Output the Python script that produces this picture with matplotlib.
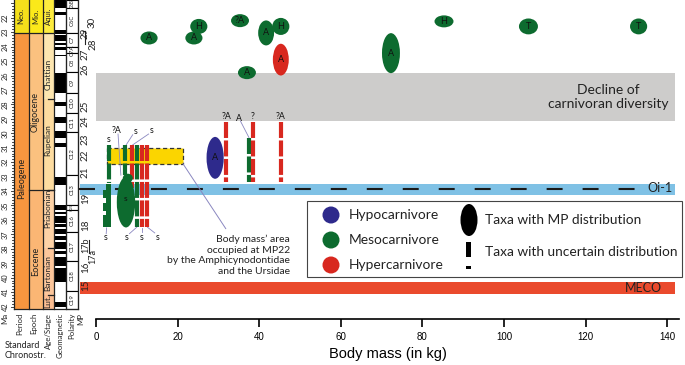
import matplotlib
matplotlib.use("Agg")
import numpy as np
import matplotlib.pyplot as plt
from matplotlib.patches import Ellipse, Rectangle, Circle

plt.rcParams['lines.scale_dashes'] = False
plt.rcParams['font.family'] = ['Lato', 'DejaVu Sans']

# ---------------- data ----------------
# taxa with MP distribution: body mass (kg), age (Ma), ellipse size (kg, Ma), diet, letter
ell_mass = [13.0, 25.2, 24.0, 35.3, 41.7, 45.3, 37.0, 72.3, 85.3, 106.0, 133.0, 45.3, 29.2]
ell_age = [23.4, 22.6, 23.4, 22.2, 23.05, 22.6, 25.8, 24.45, 22.25, 22.6, 22.6, 24.9, 31.7]
ell_w = [4.2, 4.2, 4.2, 4.4, 3.9, 4.2, 4.4, 4.4, 4.65, 4.65, 4.2, 3.9, 4.2]
ell_h = [0.9, 1.04, 0.9, 0.9, 1.73, 1.18, 0.9, 2.77, 0.83, 1.1, 1.1, 2.2, 2.9]
ell_diet = ['meso', 'meso', 'meso', 'meso', 'meso', 'meso', 'meso', 'meso', 'meso',
            'meso', 'meso', 'hyper', 'hypo']
ell_lab = ['A', 'H', 'A', '?A', 'A', 'H', 'A', 'A', 'H', 'T', 'T', 'A', 'A']

# taxa with uncertain distribution: mass (kg), first / last age (Ma), diet
bar_mass = [31.9, 37.5, 38.5, 45.3, 3.2, 7.1, 8.8, 10.0, 11.3, 12.5]
bar_top = [29.2, 30.3, 29.2, 29.2, 30.8, 30.8, 30.8, 30.8, 30.8, 30.8]
bar_bot = [33.4, 33.4, 33.4, 33.4, 33.45, 32.9, 33.45, 36.5, 36.5, 36.5]
bar_diet = ['hyper', 'meso', 'hyper', 'hyper', 'meso', 'meso', 'hyper', 'meso', 'hyper', 'hyper']

# labels over the uncertain bars (mass, age, text)
tag_mass = [31.9, 35.0, 38.5, 45.3, 3.2, 5.1, 9.6, 13.7, 2.4, 7.6, 11.3, 15.2]
tag_age = [28.85, 28.95, 28.85, 28.85, 30.45, 29.8, 29.9, 29.8, 37.2, 37.2, 37.2, 37.2]
tag_text = ['?A', 'A', '?', '?A', 's', '?A', 's', 's', 's', 's', 's', 's']
# leader lines: (mass0, age0, mass1, age1)
lead_x0 = [35.4, 5.4, 9.0, 12.9, 2.6, 8.2, 11.3, 14.4]
lead_y0 = [29.15, 30.05, 30.1, 30.05, 36.55, 36.95, 36.55, 36.9]
lead_x1 = [37.5, 6.1, 7.4, 9.0, 2.5, 10.0, 11.3, 12.6]
lead_y1 = [30.3, 32.9, 30.8, 30.8, 36.95, 36.5, 36.85, 36.5]

# Amphicynodontidae / Ursidae area at MP22
area_mass = (2.7, 21.3)
area_age = (31.0, 32.1)

# events (Ma)
decline_age = (25.8, 29.15)
oi1_age = 33.85
oi1_band = (33.5, 34.27)
meco_band = (40.3, 41.15)

# chronostratigraphy (Ma)
ma_labels = list(range(22, 43))
epoch_names = ['Oligocene', 'Eocene']
epoch_bounds = [23.03, 33.9, 42.15]
epoch_lab_age = [28.5, 38.9]
stage_names = ['Chattian', 'Rupelian', 'Priabonian', 'Bartonian', 'Lut.']
stage_bounds = [23.03, 27.6, 33.9, 37.95, 41.2, 42.15]
stage_lab_age = [25.9, 30.5, 35.2, 39.7, 41.65]
chron_names = ['C6B', 'C6C', 'C7', 'C7A', 'C8', 'C9', 'C10', 'C11', 'C12', 'C13',
               'C15', 'C16', 'C17', 'C18', 'C19']
chron_bounds = [20.77, 21.3, 23.05, 24.0, 24.45, 25.75, 27.2, 28.6, 29.9, 32.9,
                34.95, 35.3, 36.85, 38.85, 40.9, 42.15]
normal_start = [20.77, 21.6, 22.85, 23.2, 23.75, 24.05, 24.55, 25.8, 27.8, 28.9,
                29.85, 30.7, 33.05, 35.0, 35.45, 35.7, 36.3, 36.6, 37.1, 37.5, 38.15, 38.6,
                39.3, 41.7]
normal_end = [21.3, 21.8, 23.15, 23.6, 23.9, 24.25, 24.65, 27.2, 28.1, 29.3,
              30.35, 30.95, 33.55, 35.3, 35.6, 36.2, 36.5, 37.0, 37.4, 38.0, 38.35, 39.2,
              40.3, 42.0]
mp_text = ['30', '29', '28', '27', '26', '25', '24', '23', '22', '21', '19', '18',
           '17b', '17a', '16', '15']
mp_age = [22.3, 23.05, 23.8, 24.55, 25.6, 28.1, 29.2, 30.45, 31.55, 32.7, 34.5, 36.4,
          37.75, 38.5, 39.3, 40.5]
mp_col = [1, 0, 1, 0, 0, 0, 0, 0, 0, 0, 0, 0, 0, 1, 0, 0]

diet_color = {'hypo': '#2e2a8c', 'meso': '#0d6b2f', 'hyper': '#d8281f'}

# ---------------- layout ----------------
W, H = 685, 365
MA_TOP, MA_BOT = 20.77, 42.86
Y_AX = 319          # pixel row of the x axis
X0, X1 = 96, 679.4  # pixel columns of 0 kg and 143 kg

fig = plt.figure(figsize=(W / 100, H / 100), dpi=100)
ax = fig.add_axes([X0 / W, (H - Y_AX) / H, (X1 - X0) / W, Y_AX / H])
ax.set_xlim(0, 143)
ax.set_ylim(MA_BOT, MA_TOP)
for s in ['top', 'left', 'right']:
    ax.spines[s].set_visible(False)
ax.spines['bottom'].set_linewidth(1.2)
ax.set_yticks([])
ax.set_xticks(range(0, 141, 20))
ax.tick_params(axis='x', length=6, width=1.2, labelsize=7, pad=3)
for t in ax.get_xticklabels():
    t.set_family('Liberation Sans')
ax.set_xlabel('Body mass (in kg)', fontsize=10.5, family='Liberation Sans', labelpad=4)

# bands
ax.add_patch(Rectangle((0, decline_age[0]), 142, decline_age[1] - decline_age[0],
                       color='#cdcccb', lw=0, zorder=1))
ax.add_patch(Rectangle((-3.9, oi1_band[0]), 145.9, oi1_band[1] - oi1_band[0],
                       color='#7fc1e5', lw=0, zorder=1, clip_on=False))
ax.add_patch(Rectangle((-3.9, meco_band[0]), 145.9, meco_band[1] - meco_band[0],
                       color='#ea4a2d', lw=0, zorder=1, clip_on=False))
ax.plot([-4.2, 132.2], [oi1_age, oi1_age], color='#1a1a1a', lw=1.5,
        ls=(0, (11.5, 14.4)), dash_capstyle='butt', zorder=2, clip_on=False)
ax.text(125.5, sum(decline_age) / 2, 'Decline of\ncarnivoran diversity', ha='center',
        va='center', fontsize=10, linespacing=1.25, color='#222', zorder=3)
ax.text(141.2, oi1_age - 0.05, 'Oi-1', ha='right', va='center', fontsize=9, color='#222', zorder=3)
ax.text(138.7, sum(meco_band) / 2, 'MECO', ha='right', va='center', fontsize=9, color='#222', zorder=3)

# MP22 area
ax.add_patch(Rectangle((area_mass[0], area_age[0]), area_mass[1] - area_mass[0],
                       area_age[1] - area_age[0], facecolor='#fbd500', edgecolor='#333',
                       lw=0.9, ls=(0, (3, 2)), zorder=2))
ax.plot([area_mass[1], 31.8], [area_age[1], 36.6], color='#8a87c0', lw=0.7, zorder=2)
ax.text(47.6, 37.0, "Body mass\u2019 area\noccupied at MP22\nby the Amphicynodontidae\nand the Ursidae",
        ha='right', va='top', fontsize=7.5, linespacing=1.25, color='#222', zorder=3)

# uncertain bars
for m, t0, t1, d in zip(bar_mass, bar_top, bar_bot, bar_diet):
    ax.plot([m, m], [t0, t1], color=diet_color[d], lw=3.0, ls=(0, (11.5, 1.8)),
            dash_capstyle='butt', solid_capstyle='butt', zorder=4)
# stepped outline of the first mesocarnivore below Oi-1
g = diet_color['meso']
ax.add_patch(Rectangle((2.45, 33.5), 1.25, 3.0, color=g, lw=0, zorder=4))
for a0, a1 in [(33.95, 34.45), (34.85, 35.35), (35.65, 36.5)]:
    ax.add_patch(Rectangle((1.7, a0), 0.9, a1 - a0, color=g, lw=0, zorder=4))
ax.add_patch(Rectangle((8.3, 33.35), 0.9, 0.45, color=diet_color['hyper'], lw=0, zorder=4))
# large mesocarnivore ellipse of the left cluster
ax.add_patch(Ellipse((7.35, 34.77), 4.5, 3.5, color=g, lw=0, zorder=5))
ax.add_patch(Ellipse((7.8, 33.1), 2.45, 0.6, color=g, lw=0, zorder=5))
ax.text(7.35, 34.5, 's', ha='center', va='center', fontsize=6, color='#111', zorder=6)

for x, y, t in zip(tag_mass, tag_age, tag_text):
    ax.text(x, y, t, ha='center', va='center', fontsize=6.3, color='#111', zorder=6)
for a, b, c, d in zip(lead_x0, lead_y0, lead_x1, lead_y1):
    ax.plot([a, c], [b, d], color='#8a87c0', lw=0.6, zorder=3)

# ellipses
for m, a, w, h, d, t in zip(ell_mass, ell_age, ell_w, ell_h, ell_diet, ell_lab):
    ax.add_patch(Ellipse((m, a), w, h, color=diet_color[d], lw=0, zorder=5, clip_on=False))
    ax.text(m, a, t, ha='center', va='center', fontsize=6.5, color='#111', zorder=6)

# ---------------- chronostratigraphic columns ----------------
cs = fig.add_axes([0, (H - Y_AX) / H, X0 / W, Y_AX / H])
cs.set_xlim(0, X0)
cs.set_ylim(MA_BOT, MA_TOP)
cs.axis('off')
top, bot = MA_TOP, epoch_bounds[-1]
k = dict(lw=0, zorder=1)
# neogene row
cs.add_patch(Rectangle((14, top), 14.5, 23.03 - top, color='#f4df1b', **k))
cs.add_patch(Rectangle((28.5, top), 14, 23.03 - top, color='#fbe91a', **k))
cs.add_patch(Rectangle((42.5, top), 11.5, 23.03 - top, color='#fdec3e', **k))
cs.add_patch(Rectangle((14, 23.03), 14.5, bot - 23.03, color='#f7963f', **k))
for i, c in enumerate(['#fbc17f', '#fbb674']):
    cs.add_patch(Rectangle((28.5, epoch_bounds[i]), 14, epoch_bounds[i + 1] - epoch_bounds[i], color=c, **k))
for i, c in enumerate(['#fde6b0', '#fddca0', '#fdd2a6', '#fcc69b', '#fcbe92']):
    cs.add_patch(Rectangle((42.5, stage_bounds[i]), 11.5, stage_bounds[i + 1] - stage_bounds[i], color=c, **k))
# polarity
cs.add_patch(Rectangle((54, top), 11.5, bot - top, facecolor='white', edgecolor='none', zorder=1))
for a0, a1 in zip(normal_start, normal_end):
    cs.add_patch(Rectangle((54, a0), 11.5, a1 - a0, color='black', **k))
for i, n in enumerate(chron_names):
    a0, a1 = chron_bounds[i], chron_bounds[i + 1]
    cs.add_patch(Rectangle((66, a0), 12, a1 - a0, facecolor='white', edgecolor='black', lw=0.8, zorder=2))
    fs = {'C6B': 3.4, 'C15': 3.0}.get(n, 4.3)
    cs.text(72, (a0 + a1) / 2, n, rotation=90, ha='center', va='center', fontsize=fs,
            color='#222', zorder=3)
# column frames
lk = dict(color='#222', lw=0.9, zorder=3)
for x in [14, 28.5, 42.5, 54, 65.5]:
    cs.plot([x, x], [top, bot], **lk)
cs.plot([14, 78], [bot, bot], **lk)
cs.plot([14, 54], [23.03, 23.03], **lk)
cs.plot([28.5, 54], [33.9, 33.9], **lk)
cs.plot([78, 78], [top, bot], **lk)
for b in stage_bounds[1:-1]:
    cs.plot([48, 54], [b, b], **lk)
# Ma ruler
for a in np.arange(21.0, 42.01, 0.2):
    major = abs(a - round(a)) < 1e-6
    cs.plot([10.5 if major else 12, 14], [a, a], color='#222', lw=0.6, zorder=3)
for m in ma_labels:
    cs.text(5, m, str(m), rotation=90, ha='center', va='center', fontsize=5.3, color='#222')
# column texts
tk = dict(rotation=90, ha='center', va='center', color='#222')
cs.text(21.2, 21.9, 'Neo.', fontsize=5.5, **tk)
cs.text(35.5, 21.9, 'Mio.', fontsize=5.5, **tk)
cs.text(48.2, 21.9, 'Aqui.', fontsize=5.5, **tk)
cs.text(21.2, 33.1, 'Paleogene', fontsize=6.5, **tk)
for n, a in zip(epoch_names, epoch_lab_age):
    cs.text(35.5, a, n, fontsize=6.5, **tk)
for n, a in zip(stage_names, stage_lab_age):
    cs.text(48.2, a, n, fontsize=6, **tk)
for t, a, c in zip(mp_text, mp_age, mp_col):
    cs.text(85.5 if c == 0 else 92.5, a, t, fontsize=6.5 if len(t) > 2 else 7, **tk)
cs.plot([85, 85], [22.9, 23.8], color='#222', lw=0.8)
cs.plot([82.5, 85], [22.9, 22.9], color='#222', lw=0.8)
cs.plot([89, 89], [37.4, 38.3], color='#222', lw=0.8)

# ---------------- overlay in pixel units: legend and column titles ----------------
ov = fig.add_axes([0, 0, 1, 1])
ov.set_xlim(0, W)
ov.set_ylim(H, 0)
ov.axis('off')
ov.set_zorder(5)
ov.add_patch(Rectangle((307, 201), 375, 76, facecolor='white', edgecolor='#444', lw=0.8))
for yy, d, n in [(215, 'hypo', 'Hypocarnivore'), (240, 'meso', 'Mesocarnivore'),
                 (265, 'hyper', 'Hypercarnivore')]:
    ov.add_patch(Circle((331, yy), 8.5, color=diet_color[d], lw=0))
    ov.text(349, yy, n, ha='left', va='center', fontsize=9.9, color='#222')
ov.add_patch(Ellipse((469, 220), 17, 32, color='black', lw=0))
ov.add_patch(Rectangle((466.5, 242), 5, 15, color='black', lw=0))
ov.add_patch(Rectangle((466.5, 266), 5, 3, color='black', lw=0))
ov.text(485, 220, 'Taxa with MP distribution', ha='left', va='center', fontsize=9.9, color='#222')
ov.text(485, 252, 'Taxa with uncertain distribution', ha='left', va='center', fontsize=9.9, color='#222')

bk = dict(rotation=90, ha='center', va='top', fontsize=5.6, color='#222')
for x, t in [(5, 'Ma'), (20, 'Period'), (34, 'Epoch'), (48, 'Age/Stage'),
             (60, 'Geomagnetic'), (71.5, 'Polarity'), (81, 'MP')]:
    ov.text(x, 313, t, **bk)
ov.text(5, 345, 'Standard', ha='left', va='center', fontsize=6.5, color='#222')
ov.text(5, 356, 'Chronostr.', ha='left', va='center', fontsize=6.5, color='#222')

fig.savefig('out.png', dpi=100)
